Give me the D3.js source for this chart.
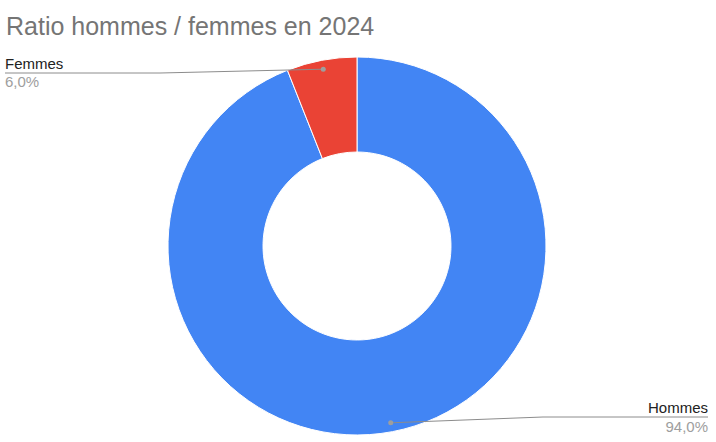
<!DOCTYPE html>
<html>
<head>
<meta charset="utf-8">
<script src="https://cdn.jsdelivr.net/npm/d3@7"></script>
<style>
  body { margin: 0; background: #fff; }
  text { font-family: "Liberation Sans", Arial, sans-serif; }
</style>
</head>
<body>
<div id="chart"></div>
<script>
const labels = ["Hommes", "Femmes"];
const values = [94.0, 6.0];
const colors = ["#4285f4", "#ea4335"];

const w = 716;
const h = 442;
const cx = 357, cy = 246;
const outerR = 189, innerR = 94;

const svg = d3.select("#chart").append("svg")
  .attr("width", w)
  .attr("height", h);

svg.append("text")
  .attr("x", 6)
  .attr("y", 35)
  .attr("font-size", 25)
  .attr("fill", "#757575")
  .text("Ratio hommes / femmes en 2024");

const data = labels.map((l, i) => ({ label: l, value: values[i], color: colors[i] }));

const pie = d3.pie().sort(null).value(d => d.value);
const arc = d3.arc().innerRadius(innerR).outerRadius(outerR);
const dotArc = d3.arc().innerRadius(180).outerRadius(180);

const g = svg.append("g").attr("transform", `translate(${cx},${cy})`);
const arcs = pie(data);

g.selectAll("path")
  .data(arcs)
  .enter()
  .append("path")
  .attr("d", arc)
  .attr("fill", d => d.data.color)
  .attr("stroke", "#fff")
  .attr("stroke-width", 1);

// leader lines: bend point, end point, label anchor
const leaders = {
  Femmes: { bend: [160, 73], end: [5, 73], anchor: "start", tx: 5, ty1: 69, ty2: 87 },
  Hommes: { bend: [543, 417], end: [708, 417], anchor: "end", tx: 708, ty1: 413, ty2: 432 }
};

const line = d3.line();
arcs.forEach(a => {
  const L = leaders[a.data.label];
  const p = dotArc.centroid(a);
  const dot = [p[0] + cx, p[1] + cy];
  svg.append("path")
    .attr("d", line([dot, L.bend, L.end]))
    .attr("fill", "none")
    .attr("stroke", "#8c8c8c")
    .attr("stroke-width", 1);
  svg.append("circle")
    .attr("cx", dot[0])
    .attr("cy", dot[1])
    .attr("r", 2.5)
    .attr("fill", "#9e9e9e");
  svg.append("text")
    .attr("x", L.tx)
    .attr("y", L.ty1)
    .attr("text-anchor", L.anchor)
    .attr("font-size", 15)
    .attr("fill", "#222")
    .text(a.data.label);
  svg.append("text")
    .attr("x", L.tx)
    .attr("y", L.ty2)
    .attr("text-anchor", L.anchor)
    .attr("font-size", 15)
    .attr("fill", "#9e9e9e")
    .text(d3.format(".1f")(a.data.value).replace(".", ",") + "%");
});
</script>
</body>
</html>
